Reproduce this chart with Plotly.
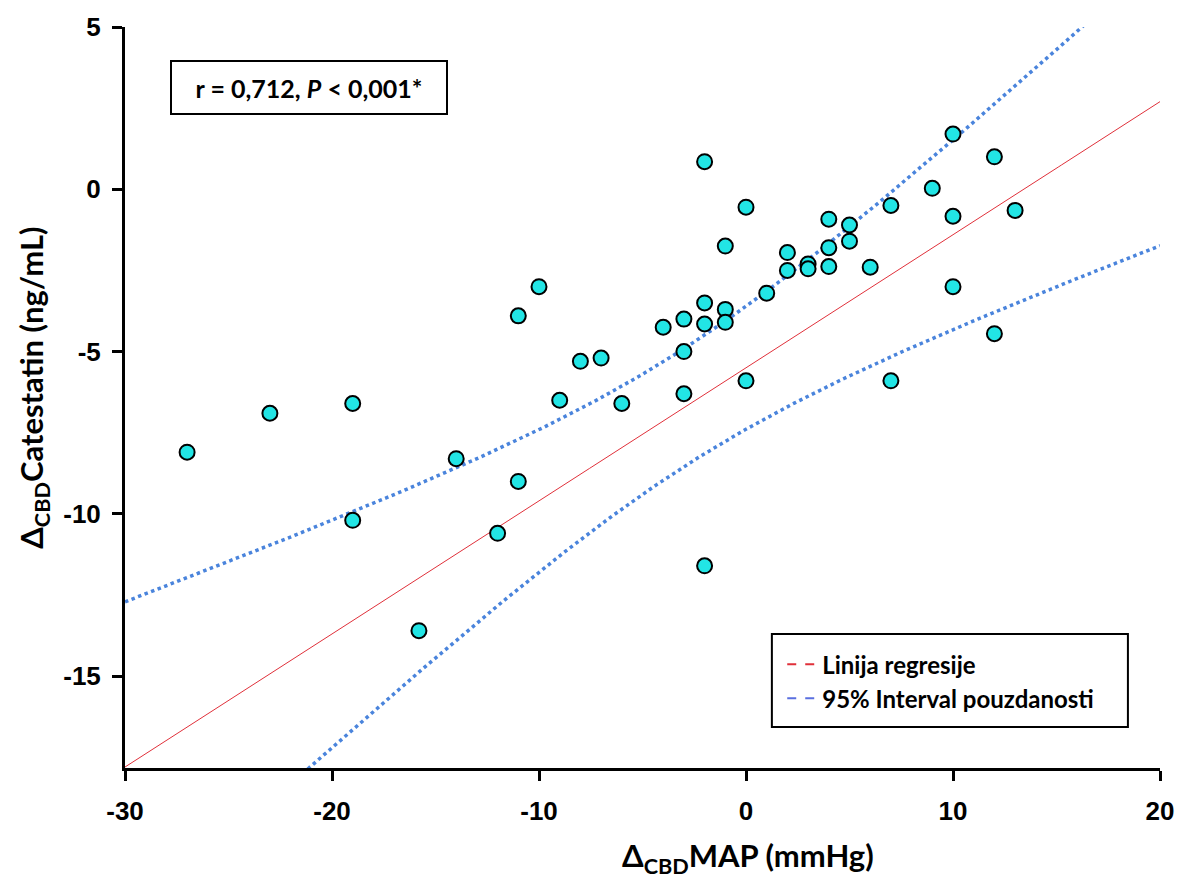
import numpy as np
import plotly.graph_objects as go

# Data points
map_change = [-27, -23, -19, -19, -15.8, -14, -12, -11, -11, -10, -9, -8, -7, -6,
              -4, -3, -3, -3, -2, -2, -2, -2, -1, -1, -1, 0, 0, 1, 2, 2, 3, 3,
              4, 4, 4, 5, 5, 6, 7, 7, 9, 10, 10, 10, 12, 12, 13]
catestatin_change = [-8.1, -6.9, -6.6, -10.2, -13.6, -8.3, -10.6, -3.9, -9.0, -3.0, -6.5, -5.3, -5.2, -6.6,
                     -4.25, -4.0, -5.0, -6.3, 0.85, -3.5, -4.15, -11.6, -1.75, -3.7, -4.1, -0.55, -5.9, -3.2, -1.95, -2.5, -2.3, -2.45,
                     -0.92, -1.8, -2.38, -1.1, -1.6, -2.4, -0.5, -5.9, 0.03, 1.7, -0.83, -3.0, 1.0, -4.45, -0.65]

# Regression line and confidence band parameters as drawn in the picture
reg_slope = 0.41
reg_intercept = -5.5
ci_center = -3.0
ci_a = 3.3
ci_b = 0.031

x_ticks = [-30, -20, -10, 0, 10, 20]
x_ticktext = ["-30", "-20", "-10", "0", "10", "20"]
y_ticks = [5, 0, -5, -10, -15]
y_ticktext = ["5", "0", "-5", "-10", "-15"]

xs = np.linspace(-30, 20, 400)
yhat = reg_slope * xs + reg_intercept
hw = np.sqrt(ci_a + ci_b * (xs - ci_center) ** 2)

fig = go.Figure()
blue = "#4A84DC"
red = "#E0303A"

fig.add_trace(go.Scatter(x=xs, y=yhat + hw, mode="lines", line=dict(color=blue, width=3.5, dash="dot"),
                         showlegend=False, hoverinfo="skip"))
fig.add_trace(go.Scatter(x=xs, y=yhat - hw, mode="lines", line=dict(color=blue, width=3.5, dash="dot"),
                         showlegend=False, hoverinfo="skip"))
fig.add_trace(go.Scatter(x=xs, y=yhat, mode="lines", line=dict(color=red, width=1),
                         showlegend=False, hoverinfo="skip"))
fig.add_trace(go.Scatter(x=map_change, y=catestatin_change, mode="markers",
                         marker=dict(size=15, color="#22E5E5", line=dict(color="black", width=2)),
                         showlegend=False))
# legend entries
fig.add_trace(go.Scatter(x=[None], y=[None], mode="lines", name="Linija regresije",
                         line=dict(color=red, width=2, dash="dash")))
fig.add_trace(go.Scatter(x=[None], y=[None], mode="lines", name="95% Interval pouzdanosti",
                         line=dict(color="#5A6FE0", width=2, dash="dash")))

tickfont = dict(family="Liberation Sans", size=26, color="black", weight="bold")
titlefont = dict(family="Lato", size=31, color="black", weight="bold")
fig.update_xaxes(range=[-30, 20], tickvals=x_ticks, ticktext=x_ticktext, tickfont=tickfont,
                 showgrid=False, zeroline=False, showline=True, linecolor="black", linewidth=3,
                 ticks="outside", ticklen=10, tickwidth=3, tickcolor="black",
                 ticklabelstandoff=8, ticklabeloverflow="allow", automargin=False)
fig.update_yaxes(range=[-17.83, 5], tickvals=y_ticks, ticktext=y_ticktext, tickfont=tickfont,
                 showgrid=False, zeroline=False, showline=True, linecolor="black", linewidth=3,
                 ticks="outside", ticklen=10, tickwidth=3, tickcolor="black",
                 ticklabelstandoff=6, ticklabeloverflow="allow", automargin=False)

# axis titles
fig.add_annotation(xref="paper", yref="paper", x=0.602, y=-0.121, xanchor="center", yanchor="middle",
                   text="Δ<sub>CBD</sub>MAP (mmHg)", showarrow=False, font=titlefont)
fig.add_annotation(xref="paper", yref="paper", x=-0.088, y=0.513, xanchor="center", yanchor="middle",
                   text="Δ<sub>CBD</sub>Catestatin (ng/mL)", showarrow=False, font=titlefont, textangle=-90)

fig.add_annotation(xref="paper", yref="paper", x=0.178, y=0.918, xanchor="center", yanchor="middle",
                   text="<b>r = 0,712, <i>P</i> < 0,001*</b>", showarrow=False,
                   font=dict(family="Lato", size=25, color="black"),
                   bordercolor="black", borderwidth=2, borderpad=6, width=262, height=39, bgcolor="white")

# legend frame
fig.add_shape(type="rect", xref="paper", yref="paper", x0=0.625, x1=0.969, y0=0.0553, y1=0.1808,
              line=dict(color="black", width=2), fillcolor="white", layer="below")

fig.update_layout(
    width=1181, height=883,
    margin=dict(l=125, r=21, t=27, b=115),
    plot_bgcolor="white", paper_bgcolor="white",
    legend=dict(x=0.635, y=0.170, xanchor="left", yanchor="top",
                borderwidth=0, bgcolor="rgba(0,0,0,0)",
                font=dict(family="Lato", size=24, color="black", weight="bold"),
                itemwidth=30, tracegroupgap=2),
    font=dict(family="Lato", color="black"),
)
fig.write_html("out.html", config={"displayModeBar": False},
               post_script="document.body.style.margin='0';document.body.style.overflow='hidden';")
